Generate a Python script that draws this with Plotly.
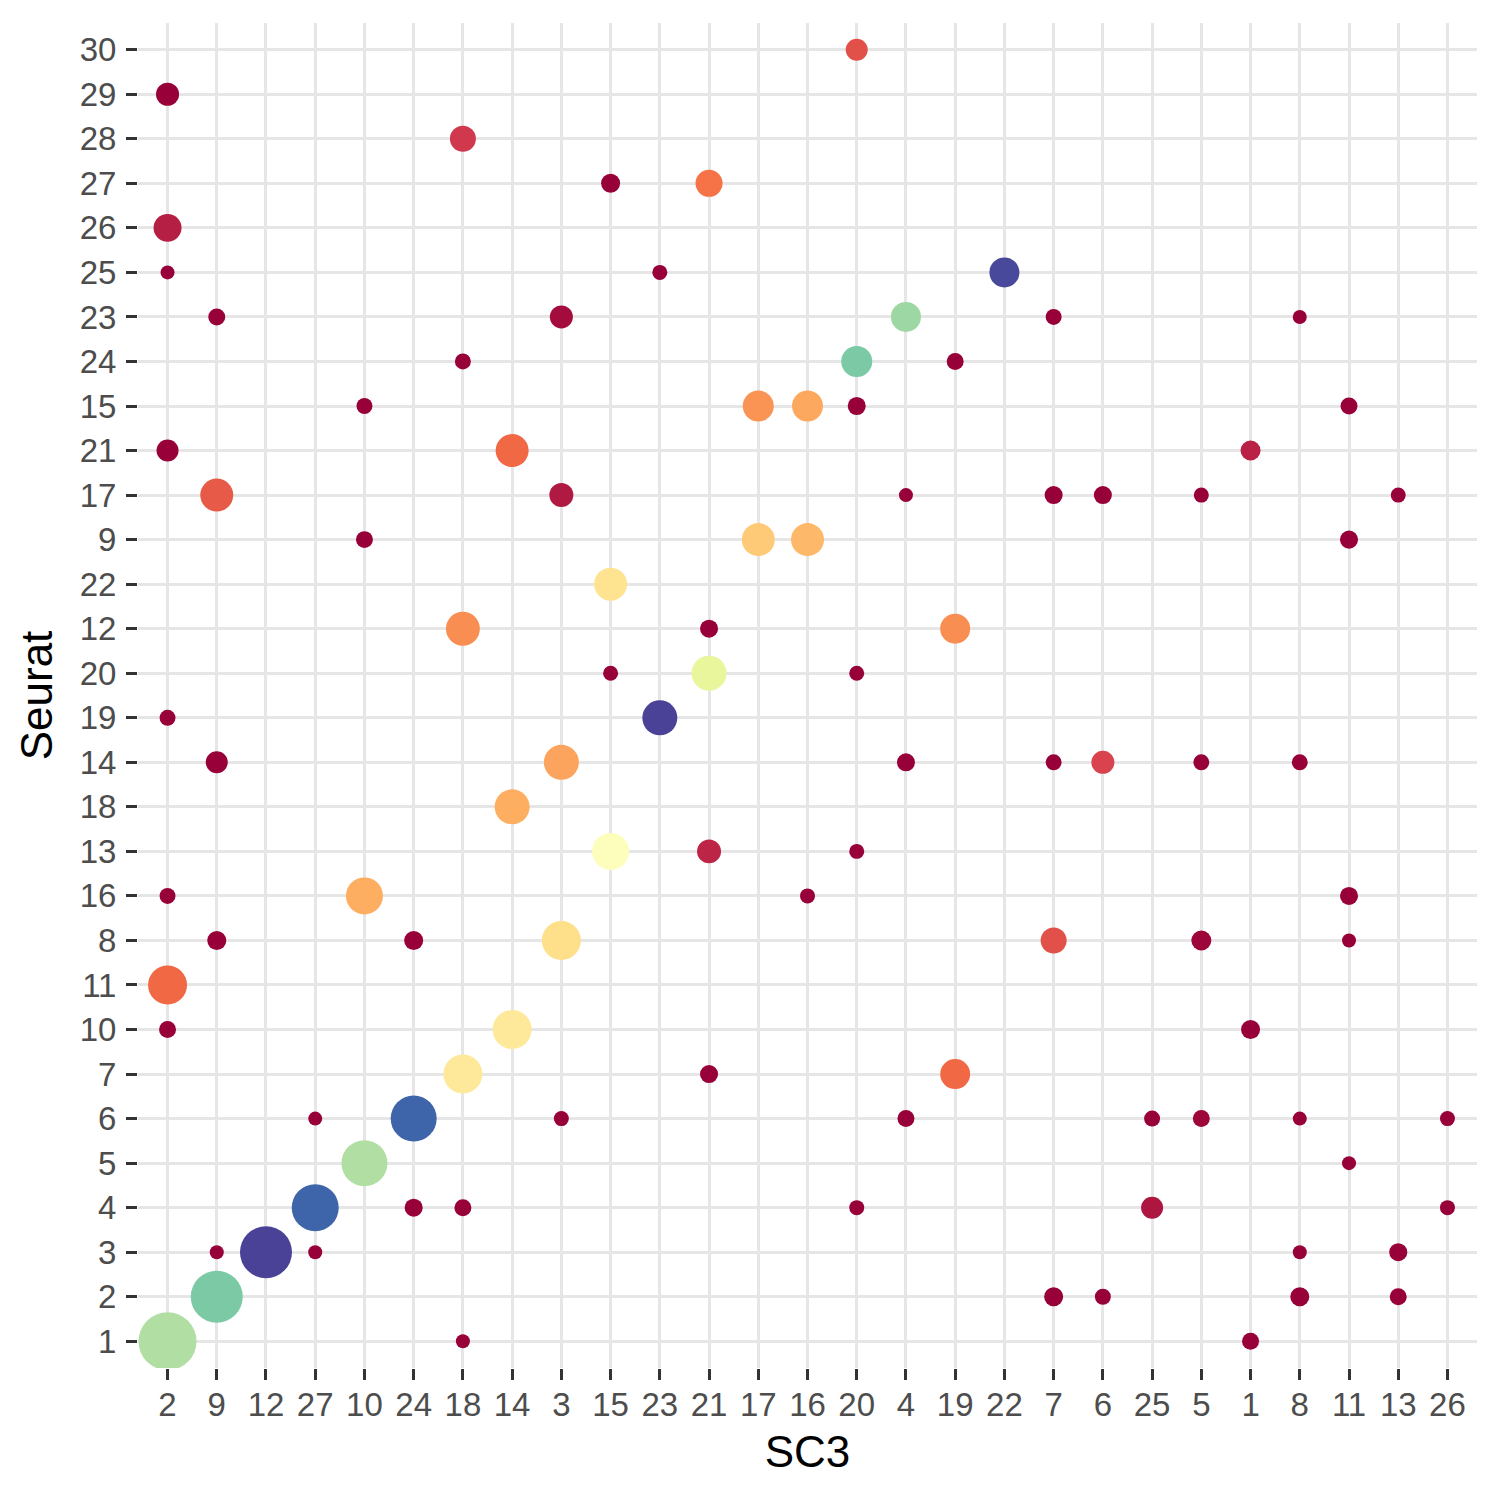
import numpy as np
import plotly.graph_objects as go

# Category orders (x: SC3 clusters left->right, y: Seurat clusters bottom->top)
sc3_order = ["2", "9", "12", "27", "10", "24", "18", "14", "3", "15", "23", "21", "17", "16",
             "20", "4", "19", "22", "7", "6", "25", "5", "1", "8", "11", "13", "26"]
seurat_order = ["1", "2", "3", "4", "5", "6", "7", "10", "11", "8", "16", "13", "18", "14", "19",
                "20", "12", "22", "9", "17", "21", "15", "24", "23", "25", "26", "27", "28", "29", "30"]

# One entry per dot
sc3 = ["20",
       "2",
       "18",
       "15", "21",
       "2",
       "2", "23", "22",
       "9", "3", "4", "7", "8",
       "18", "20", "19",
       "10", "17", "16", "20", "11",
       "2", "14", "1",
       "9", "3", "4", "7", "6", "5", "13",
       "10", "17", "16", "11",
       "15",
       "18", "21", "19",
       "15", "21", "20",
       "2", "23",
       "9", "3", "4", "7", "6", "5", "8",
       "14",
       "15", "21", "20",
       "2", "10", "16", "11",
       "9", "24", "3", "7", "5", "11",
       "2",
       "2", "14", "1",
       "18", "21", "19",
       "27", "24", "3", "4", "25", "5", "8", "26",
       "10", "11",
       "27", "24", "18", "20", "25", "26",
       "9", "12", "27", "8", "13",
       "9", "7", "6", "8", "13",
       "2", "18", "1"]

seurat = ["30",
          "29",
          "28",
          "27", "27",
          "26",
          "25", "25", "25",
          "23", "23", "23", "23", "23",
          "24", "24", "24",
          "15", "15", "15", "15", "15",
          "21", "21", "21",
          "17", "17", "17", "17", "17", "17", "17",
          "9", "9", "9", "9",
          "22",
          "12", "12", "12",
          "20", "20", "20",
          "19", "19",
          "14", "14", "14", "14", "14", "14", "14",
          "18",
          "13", "13", "13",
          "16", "16", "16", "16",
          "8", "8", "8", "8", "8", "8",
          "11",
          "10", "10", "10",
          "7", "7", "7",
          "6", "6", "6", "6", "6", "6", "6", "6",
          "5", "5",
          "4", "4", "4", "4", "4", "4",
          "3", "3", "3", "3", "3",
          "2", "2", "2", "2", "2",
          "1", "1", "1"]

cells = [67,
         85,
         150,
         27, 176,
         203,
         1, 2, 265,
         10, 85, 265, 5, 1,
         5, 299, 10,
         5, 299, 299, 18, 10,
         67, 374, 38,
         374, 104, 1, 18, 18, 2, 2,
         10, 374, 374, 18,
         374,
         414, 18, 265,
         2, 456, 2,
         5, 456,
         67, 456, 18, 5, 85, 5, 5,
         456,
         547, 104, 2,
         5, 547, 2, 18,
         27, 27, 646, 150, 38, 1,
         646,
         10, 646, 27,
         646, 18, 265,
         1, 1058, 2, 10, 5, 10, 1, 2,
         1058, 1,
         1125, 18, 10, 2, 67, 2,
         1, 1492, 1, 1, 18,
         1492, 27, 5, 27, 10,
         2000, 1, 10]

fraction = [0.14,
            0.0,
            0.09,
            0.0, 0.21,
            0.05,
            0.0, 0.0, 0.99,
            0.0, 0.02, 0.72, 0.0, 0.0,
            0.0, 0.77, 0.0,
            0.0, 0.26, 0.29, 0.0, 0.0,
            0.0, 0.19, 0.055,
            0.16, 0.04, 0.0, 0.0, 0.0, 0.0, 0.0,
            0.0, 0.355, 0.32, 0.0,
            0.41,
            0.25, 0.0, 0.25,
            0.0, 0.59, 0.0,
            0.0, 1.0,
            0.0, 0.285, 0.0, 0.0, 0.11, 0.0, 0.0,
            0.30,
            0.51, 0.06, 0.0,
            0.0, 0.30, 0.0, 0.0,
            0.0, 0.0, 0.40, 0.14, 0.01, 0.0,
            0.19,
            0.0, 0.43, 0.0,
            0.43, 0.0, 0.19,
            0.0, 0.95, 0.0, 0.0, 0.0, 0.01, 0.0, 0.0,
            0.69, 0.0,
            0.95, 0.0, 0.0, 0.0, 0.035, 0.0,
            0.0, 1.0, 0.0, 0.0, 0.0,
            0.77, 0.0, 0.0, 0.0, 0.0,
            0.69, 0.0, 0.0]

# size scale (area-proportional, like ggplot's scale_size)
cells_arr = np.array(cells, dtype=float)
dmin, dmax = 14.0, 58.0
diam = dmin + (dmax - dmin) * np.sqrt((cells_arr - cells_arr.min()) / (cells_arr.max() - cells_arr.min()))

spectral = [[0.0, "#970039"], [0.1, "#D53E4F"], [0.2, "#F46D43"], [0.3, "#FDAE61"],
            [0.4, "#FEE08B"], [0.5, "#FFFFBF"], [0.6, "#E6F598"], [0.7, "#ABDDA4"],
            [0.8, "#66C2A5"], [0.9, "#3288BD"], [1.0, "#4A4296"]]

fig = go.Figure(go.Scatter(
    x=sc3, y=seurat, mode="markers",
    marker=dict(size=diam, color=fraction, colorscale=spectral, cmin=0, cmax=1,
                showscale=False, line=dict(width=0), opacity=1),
    hoverinfo="x+y",
))

font_family = "Liberation Sans, Arial, Helvetica, sans-serif"
axis_common = dict(
    type="category", categoryorder="array",
    showgrid=True, gridcolor="#E6E6E6", gridwidth=2.6,
    zeroline=False, showline=False,
    ticks="outside", ticklen=11, tickwidth=3, tickcolor="#333333",
    tickfont=dict(family=font_family, size=33, color="#4D4D4D"),
)

fig.update_layout(
    width=1500, height=1500,
    margin=dict(l=138, r=23, t=23, b=132),
    paper_bgcolor="white", plot_bgcolor="white",
    showlegend=False,
    font=dict(family=font_family),
    xaxis=dict(**axis_common, categoryarray=sc3_order, range=[-0.6, 26.6],
               ticklabelstandoff=-4,
               title=dict(text="SC3", font=dict(family=font_family, size=44, color="black"), standoff=14)),
    yaxis=dict(**axis_common, categoryarray=seurat_order, range=[-0.6, 29.6],
               ticklabelstandoff=3,
               title=dict(text="Seurat", font=dict(family=font_family, size=44, color="black"), standoff=13)),
)

fig.write_html("out.html")
